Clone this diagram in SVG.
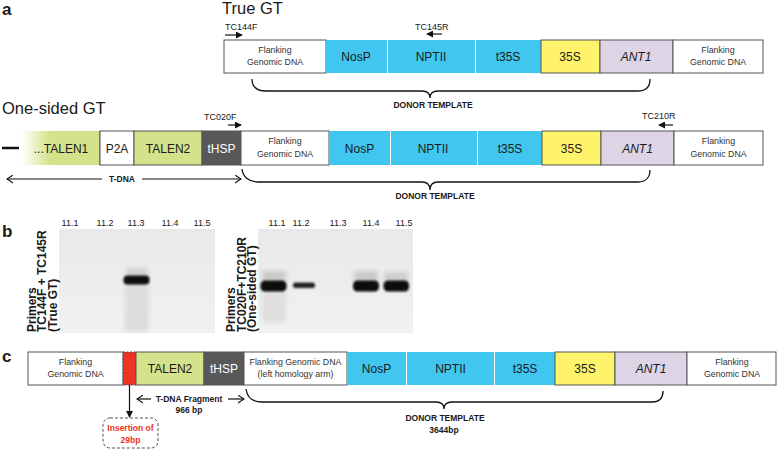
<svg xmlns="http://www.w3.org/2000/svg" width="778" height="450" viewBox="0 0 778 450">
<style>
text{font-family:"Liberation Sans",Arial,sans-serif;fill:#1a1a1a}
.box{stroke:#555;stroke-width:1}
.wh{fill:#fff}
.blue{fill:#41c6ef}
.yel{fill:#fff36c}
.pur{fill:#ddd4e6}
.grn{fill:#d4e38b}
.dk{fill:#585858}
.lbl{font-size:12px;text-anchor:middle}
.sm{font-size:8.8px;text-anchor:middle;fill:#333}
.pr{font-size:9px}
.bd{font-size:8.5px;font-weight:bold;text-anchor:middle}
.ttl{font-size:16.5px}
.pl{font-size:17px;font-weight:bold}
.lane{font-size:9px;text-anchor:middle}
.rot{font-size:12px;font-weight:bold}
.brace{fill:none;stroke:#111;stroke-width:1.3}
.ln{stroke:#111;stroke-width:1.2;fill:none}
.band{fill:#0c0c0c;filter:url(#blur)}
</style>
<defs>
<marker id="ah" viewBox="0 0 8 8" refX="7" refY="4" markerWidth="7" markerHeight="7" markerUnits="userSpaceOnUse" orient="auto"><path d="M0,0 L8,4 L0,8 Z" fill="#111"/></marker>
<marker id="chev" viewBox="0 0 8 10" refX="7" refY="5" markerWidth="7" markerHeight="9" markerUnits="userSpaceOnUse" orient="auto-start-reverse"><path d="M0,0.5 L7,5 L0,9.5" fill="none" stroke="#111" stroke-width="1.3"/></marker>
<linearGradient id="fade" x1="0" x2="1" y1="0" y2="0"><stop offset="0" stop-color="#d4e38b" stop-opacity="0"/><stop offset="0.35" stop-color="#d4e38b"/><stop offset="1" stop-color="#d4e38b"/></linearGradient>
<linearGradient id="fadeS" x1="0" x2="1" y1="0" y2="0"><stop offset="0" stop-color="#555" stop-opacity="0"/><stop offset="0.35" stop-color="#777"/><stop offset="1" stop-color="#555"/></linearGradient>
<linearGradient id="gel" x1="0" x2="0" y1="0" y2="1"><stop offset="0" stop-color="#e9e9e9"/><stop offset="1" stop-color="#f1f1f1"/></linearGradient>
<filter id="blur" x="-30%" y="-60%" width="160%" height="220%"><feGaussianBlur stdDeviation="0.9"/></filter>
<filter id="blur3" x="-30%" y="-30%" width="160%" height="160%"><feGaussianBlur stdDeviation="2.5"/></filter>
</defs>

<!-- panel letters and titles -->
<text class="pl" x="2" y="15">a</text>
<text class="ttl" x="222" y="14">True GT</text>
<text class="ttl" x="2" y="114">One-sided GT</text>
<text class="pl" x="2" y="237">b</text>
<text class="pl" x="2" y="362">c</text>

<!-- Row a: True GT -->
<g id="a-flank-left"><rect class="box wh" x="224" y="40" width="102" height="33"/><text class="sm" x="275" y="53">Flanking</text><text class="sm" x="275" y="65">Genomic DNA</text></g>
<g id="a-nosp"><rect class="blue" x="326" y="40" width="61" height="33"/><text class="lbl" x="356" y="61">NosP</text></g>
<g id="a-nptii"><rect class="blue" x="388" y="40" width="87" height="33"/><text class="lbl" x="431" y="61">NPTII</text></g>
<g id="a-t35s"><rect class="blue" x="476" y="40" width="65" height="33"/><text class="lbl" x="508" y="61">t35S</text></g>
<g id="a-35s"><rect class="box yel" x="541" y="40" width="59" height="33"/><text class="lbl" x="570" y="61">35S</text></g>
<g id="a-ant1"><rect class="box pur" x="600" y="40" width="73" height="33"/><text class="lbl" x="636" y="61" font-style="italic">ANT1</text></g>
<g id="a-flank-right"><rect class="box wh" x="673" y="40" width="90" height="33"/><text class="sm" x="718" y="53">Flanking</text><text class="sm" x="718" y="65">Genomic DNA</text></g>
<g id="a-primers"><text class="pr" x="225" y="30">TC144F</text><text class="pr" x="415" y="30">TC145R</text></g>
<text class="bd" x="433" y="108">DONOR TEMPLATE</text>

<!-- Row a: One-sided GT -->
<g id="b-line"><line x1="2" y1="148" x2="19" y2="148" stroke="#111" stroke-width="2.5"/></g>
<g id="b-talen1"><rect x="22" y="131" width="78" height="34" fill="url(#fade)"/><line x1="22" y1="131" x2="100" y2="131" stroke="url(#fadeS)"/><line x1="22" y1="165" x2="100" y2="165" stroke="url(#fadeS)"/><line x1="100" y1="131" x2="100" y2="165" stroke="#555"/><text class="lbl" x="61" y="153">...TALEN1</text></g>
<g id="b-p2a"><rect class="box wh" x="100" y="131" width="34" height="34"/><text class="lbl" x="117" y="153">P2A</text></g>
<g id="b-talen2"><rect class="box grn" x="134" y="131" width="68" height="34"/><text class="lbl" x="168" y="153">TALEN2</text></g>
<g id="b-thsp"><rect class="box dk" x="202" y="131" width="39" height="34"/><text class="lbl" x="221.5" y="153" style="fill:#fff">tHSP</text></g>
<g id="b-flank-left"><rect class="box wh" x="241" y="131" width="88" height="34"/><text class="sm" x="285" y="144">Flanking</text><text class="sm" x="285" y="157">Genomic DNA</text></g>
<g id="b-nosp"><rect class="blue" x="329" y="131" width="61" height="34"/><text class="lbl" x="359.5" y="153">NosP</text></g>
<g id="b-nptii"><rect class="blue" x="391" y="131" width="86" height="34"/><text class="lbl" x="433" y="153">NPTII</text></g>
<g id="b-t35s"><rect class="blue" x="478" y="131" width="64" height="34"/><text class="lbl" x="510" y="153">t35S</text></g>
<g id="b-35s"><rect class="box yel" x="542" y="131" width="59" height="34"/><text class="lbl" x="571.5" y="153">35S</text></g>
<g id="b-ant1"><rect class="box pur" x="601" y="131" width="73" height="34"/><text class="lbl" x="637.5" y="153" font-style="italic">ANT1</text></g>
<g id="b-flank-right"><rect class="box wh" x="674" y="131" width="89" height="34"/><text class="sm" x="718.5" y="144">Flanking</text><text class="sm" x="718.5" y="157">Genomic DNA</text></g>
<g id="b-primers"><text class="pr" x="204" y="120">TC020F</text><text class="pr" x="642" y="119">TC210R</text></g>
<text class="bd" x="122" y="182">T-DNA</text>
<text class="bd" x="435" y="199">DONOR TEMPLATE</text>

<!-- Panel b: gels -->
<g id="gel1">
<rect x="59" y="229" width="156" height="104" fill="url(#gel)"/>
<rect x="125" y="283" width="24" height="48" fill="#dcdcdc" filter="url(#blur3)"/>
<rect x="126" y="268" width="22" height="8" fill="#cfcfcf" filter="url(#blur3)"/>
<rect class="band" x="123.5" y="275.5" width="26" height="9" rx="4"/>
<text class="lane" x="70" y="226">11.1</text><text class="lane" x="105" y="226">11.2</text><text class="lane" x="136" y="226">11.3</text><text class="lane" x="170" y="226">11.4</text><text class="lane" x="202" y="226">11.5</text>
<text class="rot" transform="translate(35.5,332) rotate(-90)">Primers</text>
<text class="rot" transform="translate(46,332) rotate(-90)">TC144F + TC145R</text>
<text class="rot" transform="translate(56.5,332) rotate(-90)">(True GT)</text>
</g>
<g id="gel2">
<rect x="258" y="229" width="155" height="104" fill="url(#gel)"/>
<rect x="262" y="271" width="24" height="10" fill="#c8c8c8" filter="url(#blur3)"/>
<rect x="354" y="271" width="24" height="10" fill="#c8c8c8" filter="url(#blur3)"/>
<rect x="384" y="272" width="24" height="9" fill="#cdcdcd" filter="url(#blur3)"/>
<rect x="262" y="292" width="24" height="30" fill="#dedede" filter="url(#blur3)"/>
<rect class="band" x="260.5" y="280.5" width="26" height="11" rx="4.5"/>
<rect class="band" x="293" y="282.5" width="22" height="5.5" rx="2.5" style="fill:#222"/>
<rect class="band" x="353" y="280.5" width="26" height="11" rx="4.5"/>
<rect class="band" x="383.5" y="280.5" width="25.5" height="11" rx="4.5"/>
<text class="lane" x="277" y="226">11.1</text><text class="lane" x="301" y="226">11.2</text><text class="lane" x="338" y="226">11.3</text><text class="lane" x="371" y="226">11.4</text><text class="lane" x="404" y="226">11.5</text>
<text class="rot" transform="translate(235,332) rotate(-90)">Primers</text>
<text class="rot" transform="translate(245.5,332) rotate(-90)">TC020F+TC210R</text>
<text class="rot" transform="translate(256,332) rotate(-90)">(One-sided GT)</text>
</g>

<!-- Panel c -->
<g id="c-flank-left"><rect class="box wh" x="28" y="352" width="95" height="33"/><text class="sm" x="75.5" y="365">Flanking</text><text class="sm" x="75.5" y="377">Genomic DNA</text></g>
<g id="c-insert"><rect x="123" y="352" width="13" height="33" fill="#ec3325" stroke="#555" stroke-dasharray="2,1.5"/></g>
<g id="c-talen2"><rect class="box grn" x="136" y="352" width="68" height="33"/><text class="lbl" x="170" y="373">TALEN2</text></g>
<g id="c-thsp"><rect class="box dk" x="204" y="352" width="40" height="33"/><text class="lbl" x="224" y="373" style="fill:#fff">tHSP</text></g>
<g id="c-flank-mid"><rect class="box wh" x="244" y="352" width="103" height="33"/><text class="sm" x="295.5" y="365">Flanking Genomic DNA</text><text class="sm" x="295.5" y="377">(left homology arm)</text></g>
<g id="c-nosp"><rect class="blue" x="347" y="352" width="59" height="33"/><text class="lbl" x="376.5" y="373">NosP</text></g>
<g id="c-nptii"><rect class="blue" x="407" y="352" width="87" height="33"/><text class="lbl" x="450.5" y="373">NPTII</text></g>
<g id="c-t35s"><rect class="blue" x="495" y="352" width="60" height="33"/><text class="lbl" x="525" y="373">t35S</text></g>
<g id="c-35s"><rect class="box yel" x="555" y="352" width="60" height="33"/><text class="lbl" x="585" y="373">35S</text></g>
<g id="c-ant1"><rect class="box pur" x="615" y="352" width="72" height="33"/><text class="lbl" x="651" y="373" font-style="italic">ANT1</text></g>
<g id="c-flank-right"><rect class="box wh" x="687" y="352" width="89" height="33"/><text class="sm" x="732" y="365">Flanking</text><text class="sm" x="732" y="377">Genomic DNA</text></g>
<g id="c-insertion-note"><rect x="103" y="418" width="55" height="30" rx="7" fill="none" stroke="#555" stroke-dasharray="3,2"/><text class="bd" x="130.5" y="431" style="fill:#ec3325">Insertion of</text><text class="bd" x="130.5" y="443" style="fill:#ec3325">29bp</text></g>
<text class="bd" x="189" y="402">T-DNA Fragment</text>
<text class="bd" x="189" y="413">966 bp</text>
<text class="bd" x="445" y="421">DONOR TEMPLATE</text>
<text class="bd" x="444" y="433">3644bp</text>

<!-- connectors -->
<g id="connectors">
<line class="ln" x1="225" y1="35" x2="242" y2="35" marker-end="url(#ah)"/>
<line class="ln" x1="442" y1="34" x2="427" y2="34" marker-end="url(#ah)"/>
<line class="ln" x1="228" y1="125" x2="241" y2="125" marker-end="url(#ah)"/>
<line class="ln" x1="673" y1="125" x2="659" y2="125" marker-end="url(#ah)"/>
<path class="brace" d="M252,79 C252,87 257,91 266,91 L422,91 C428,91 430,94 430,98 C430,94 432,91 438,91 L638,91 C646,91 650,87 650,79"/>
<path class="brace" d="M242,169 C243,177 249,182 258,182 L422,182 C428,182 430,185 430,190 C430,185 432,182 438,182 L638,182 C646,182 650,177 650,170"/>
<path class="brace" d="M246,389 C247,397 252,402 262,402 L436,402 C442,402 444,405 444,409 C444,405 446,402 452,402 L652,402 C660,402 663,397 663,391"/>
<line class="ln" x1="7" y1="179" x2="102" y2="179" marker-start="url(#chev)"/>
<line class="ln" x1="142" y1="179" x2="241" y2="179" marker-end="url(#chev)"/>
<line class="ln" x1="137" y1="399" x2="151" y2="399" marker-start="url(#chev)"/>
<line class="ln" x1="228" y1="399" x2="244" y2="399" marker-end="url(#chev)"/>
<line class="ln" x1="129.5" y1="385" x2="129.5" y2="417" marker-end="url(#ah)"/>
</g>
</svg>
